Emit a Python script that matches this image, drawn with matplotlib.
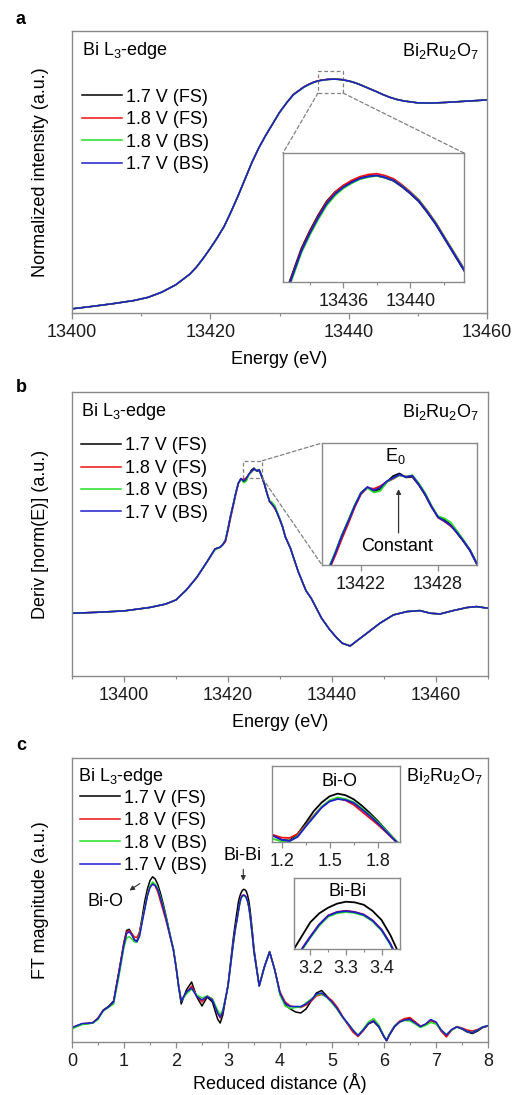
import matplotlib
matplotlib.use("Agg")
import matplotlib.pyplot as plt
from matplotlib.patches import Rectangle, ConnectionPatch
from matplotlib.ticker import MultipleLocator, FixedLocator, ScalarFormatter

plt.rcParams['font.family'] = ['Liberation Sans', 'DejaVu Sans']
plt.rcParams['mathtext.default'] = 'regular'

# ---------------- data ----------------
labels = ['1.7 V (FS)', '1.8 V (FS)', '1.8 V (BS)', '1.7 V (BS)']
colors = ['#000000', '#ee1111', '#22e022', '#1c1cd0']

# panel a: normalized XANES
E_a = [13400, 13403, 13406, 13409, 13411, 13413, 13415, 13417,
       13418, 13419, 13420, 13421, 13422, 13423, 13424, 13425, 13426, 13427, 13428, 13429, 13430, 13431,
       13432, 13432.5, 13433, 13433.5, 13434, 13434.5, 13435, 13435.5, 13436, 13436.5, 13437, 13437.5,
       13438, 13438.5, 13439, 13439.5, 13440, 13440.5, 13441, 13441.5, 13442, 13442.5, 13443, 13443.5, 13444,
       13445, 13446, 13447, 13448, 13450, 13452, 13454, 13456, 13458, 13460]
mu_fs17 = [0.000, 0.012, 0.025, 0.040, 0.055, 0.080, 0.115, 0.165,
           0.200, 0.243, 0.290, 0.340, 0.395, 0.465, 0.540, 0.620, 0.700, 0.770, 0.830, 0.885, 0.940, 0.985,
           1.0260, 1.0382, 1.0502, 1.0622, 1.0712, 1.0792, 1.0862, 1.0910, 1.0943, 1.0964, 1.0983, 1.0991,
           1.0994, 1.0983, 1.0967, 1.0937, 1.0902, 1.0862, 1.0807, 1.0747, 1.0677, 1.0607, 1.0537, 1.0467, 1.0398,
           1.025, 1.012, 1.002, 0.995, 0.986, 0.985, 0.988, 0.992, 0.996, 1.000]
mu_fs18 = [0.000, 0.012, 0.025, 0.040, 0.055, 0.080, 0.115, 0.165,
           0.200, 0.243, 0.290, 0.340, 0.395, 0.465, 0.540, 0.620, 0.700, 0.770, 0.830, 0.885, 0.940, 0.985,
           1.0255, 1.0375, 1.0495, 1.0615, 1.0706, 1.0786, 1.0857, 1.0908, 1.0944, 1.0970, 1.0989, 1.1000,
           1.1004, 1.0994, 1.0978, 1.0947, 1.0911, 1.0871, 1.0816, 1.0756, 1.0686, 1.0616, 1.0546, 1.0476, 1.0406,
           1.025, 1.012, 1.002, 0.995, 0.986, 0.985, 0.988, 0.992, 0.996, 1.000]
mu_bs18 = [0.000, 0.012, 0.025, 0.040, 0.055, 0.080, 0.115, 0.165,
           0.200, 0.243, 0.290, 0.340, 0.395, 0.465, 0.540, 0.620, 0.700, 0.770, 0.830, 0.885, 0.940, 0.985,
           1.0240, 1.0360, 1.0480, 1.0600, 1.0690, 1.0770, 1.0841, 1.0892, 1.0929, 1.0955, 1.0976, 1.0987,
           1.0993, 1.0984, 1.0970, 1.0941, 1.0907, 1.0868, 1.0813, 1.0753, 1.0683, 1.0613, 1.0543, 1.0473, 1.0403,
           1.025, 1.012, 1.002, 0.995, 0.986, 0.985, 0.988, 0.992, 0.996, 1.000]
mu_bs17 = [0.000, 0.012, 0.025, 0.040, 0.055, 0.080, 0.115, 0.165,
           0.200, 0.243, 0.290, 0.340, 0.395, 0.465, 0.540, 0.620, 0.700, 0.770, 0.830, 0.885, 0.940, 0.985,
           1.0250, 1.0370, 1.0490, 1.0610, 1.0700, 1.0780, 1.0850, 1.0900, 1.0935, 1.0960, 1.0980, 1.0990,
           1.0995, 1.0985, 1.0970, 1.0940, 1.0905, 1.0865, 1.0810, 1.0750, 1.0680, 1.0610, 1.0540, 1.0470, 1.0400,
           1.025, 1.012, 1.002, 0.995, 0.986, 0.985, 0.988, 0.992, 0.996, 1.000]

# panel b: first derivative
E_b = [13390, 13395, 13400, 13405, 13408, 13410, 13411, 13412, 13414, 13416, 13417.5, 13418.5, 13419,
       13419.5, 13420, 13420.5, 13421, 13421.5, 13422, 13422.5, 13423, 13423.5, 13424, 13424.5, 13425,
       13425.5, 13426, 13426.5, 13427, 13427.5, 13428, 13428.5, 13429, 13429.5, 13430, 13430.5, 13431,
       13432, 13433.5, 13435, 13436, 13437, 13438, 13439.6, 13441, 13442, 13443.5, 13445, 13446.7, 13449.2,
       13451.8, 13454.4, 13456.9, 13458.9, 13460.8, 13463.3, 13465.9, 13467.8, 13470]
d_fs17 = [0.0000, 0.0006, 0.0014, 0.0035, 0.0055, 0.0080, 0.0110, 0.0140, 0.0215, 0.0310, 0.0385, 0.0396, 0.0412,
          0.0437, 0.0508, 0.0586, 0.0652, 0.0722, 0.0782, 0.0806, 0.0790, 0.0798, 0.0830, 0.0858, 0.0870,
          0.0852, 0.0855, 0.0818, 0.0772, 0.0716, 0.0672, 0.0658, 0.0633, 0.0596, 0.0558, 0.0516, 0.0458,
          0.0390, 0.0250, 0.0135, 0.0090, 0.0030, -0.0030, -0.0100, -0.0150, -0.0180, -0.0196, -0.0160, -0.0120, -0.0060,
          -0.0010, 0.0010, 0.0016, 0.0000, -0.0004, 0.0016, 0.0034, 0.0040, 0.0030]
d_fs18 = [0.0000, 0.0006, 0.0014, 0.0035, 0.0055, 0.0080, 0.0110, 0.0140, 0.0215, 0.0310, 0.0385, 0.0396, 0.0410,
          0.0428, 0.0495, 0.0570, 0.0640, 0.0714, 0.0776, 0.0804, 0.0800, 0.0812, 0.0832, 0.0845, 0.0862,
          0.0856, 0.0858, 0.0821, 0.0776, 0.0720, 0.0668, 0.0650, 0.0628, 0.0600, 0.0560, 0.0520, 0.0462,
          0.0390, 0.0250, 0.0135, 0.0090, 0.0030, -0.0030, -0.0100, -0.0150, -0.0180, -0.0196, -0.0160, -0.0120, -0.0060,
          -0.0010, 0.0010, 0.0016, 0.0000, -0.0004, 0.0016, 0.0034, 0.0040, 0.0030]
d_bs18 = [0.0000, 0.0006, 0.0014, 0.0035, 0.0055, 0.0080, 0.0110, 0.0140, 0.0215, 0.0310, 0.0380, 0.0396, 0.0412,
          0.0440, 0.0510, 0.0586, 0.0654, 0.0724, 0.0782, 0.0804, 0.0783, 0.0790, 0.0830, 0.0848, 0.0862,
          0.0855, 0.0862, 0.0826, 0.0780, 0.0722, 0.0674, 0.0664, 0.0645, 0.0606, 0.0564, 0.0520, 0.0462,
          0.0390, 0.0250, 0.0135, 0.0090, 0.0030, -0.0030, -0.0100, -0.0150, -0.0180, -0.0196, -0.0160, -0.0120, -0.0060,
          -0.0010, 0.0010, 0.0016, 0.0000, -0.0004, 0.0016, 0.0034, 0.0040, 0.0030]
d_bs17 = [0.0000, 0.0006, 0.0014, 0.0035, 0.0055, 0.0080, 0.0110, 0.0140, 0.0215, 0.0310, 0.0385, 0.0396, 0.0412,
          0.0435, 0.0505, 0.0583, 0.0650, 0.0720, 0.0780, 0.0808, 0.0792, 0.0806, 0.0834, 0.0850, 0.0865,
          0.0854, 0.0860, 0.0820, 0.0775, 0.0718, 0.0670, 0.0652, 0.0632, 0.0598, 0.0560, 0.0518, 0.0460,
          0.0390, 0.0250, 0.0135, 0.0090, 0.0030, -0.0030, -0.0100, -0.0150, -0.0180, -0.0196, -0.0160, -0.0120, -0.0060,
          -0.0010, 0.0010, 0.0016, 0.0000, -0.0004, 0.0016, 0.0034, 0.0040, 0.0030]

# panel c: Fourier-transform magnitude
r_c = [0.0, 0.1, 0.2, 0.3, 0.4, 0.5, 0.6, 0.7, 0.8, 0.9,
       1.0, 1.05, 1.1, 1.15, 1.2, 1.25, 1.3, 1.35, 1.4, 1.45, 1.5, 1.55, 1.6, 1.65, 1.7, 1.75, 1.8, 1.85, 1.9, 1.95, 2.0, 2.05, 2.1,
       2.2, 2.3, 2.4, 2.5, 2.6, 2.7, 2.8, 2.85, 2.9, 3.0,
       3.1, 3.125, 3.15, 3.175, 3.2, 3.225, 3.25, 3.275, 3.3, 3.325, 3.35, 3.375, 3.4, 3.425, 3.45, 3.475, 3.5,
       3.6, 3.7, 3.8, 3.9, 4.0, 4.1, 4.2, 4.3, 4.4, 4.5, 4.6, 4.7, 4.8, 4.9, 5.0, 5.1, 5.2, 5.3, 5.4, 5.5, 5.6, 5.7, 5.8, 5.9, 6.0,
       6.05,
       6.1, 6.2, 6.3, 6.4, 6.5, 6.6, 6.7, 6.8, 6.9, 7.0, 7.1, 7.2, 7.3, 7.4, 7.5, 7.6, 7.7, 7.8, 7.9, 8.0]
ft_fs17 = [0.14, 0.16, 0.18, 0.185, 0.19, 0.235, 0.32, 0.355, 0.41, 0.70,
           1.00, 1.115, 1.127, 1.08, 1.02, 1.01, 1.10, 1.25, 1.41, 1.53, 1.615, 1.652, 1.63, 1.575, 1.49, 1.39, 1.28, 1.16, 1.04, 0.93, 0.76, 0.55, 0.38,
           0.52, 0.60, 0.45, 0.36, 0.45, 0.40, 0.23, 0.19, 0.27, 0.57,
           1.03, 1.13, 1.22, 1.31, 1.40, 1.455, 1.49, 1.515, 1.527, 1.523, 1.508, 1.47, 1.414, 1.32, 1.20, 1.07, 0.93,
           0.565, 0.755, 0.905, 0.72, 0.48, 0.37, 0.33, 0.30, 0.29, 0.33, 0.41, 0.49, 0.515, 0.46, 0.40, 0.33, 0.25, 0.18, 0.11, 0.06, 0.115, 0.18, 0.205, 0.15, 0.05,
           0.012,
           0.065, 0.15, 0.20, 0.23, 0.235, 0.20, 0.15, 0.175, 0.22, 0.19, 0.11, 0.06, 0.12, 0.15, 0.13, 0.10, 0.085, 0.11, 0.145, 0.16]
ft_fs18 = [0.14, 0.165, 0.183, 0.187, 0.195, 0.24, 0.315, 0.35, 0.40, 0.69,
           0.99, 1.10, 1.113, 1.085, 1.05, 1.045, 1.10, 1.22, 1.35, 1.47, 1.555, 1.585, 1.56, 1.50, 1.41, 1.32, 1.23, 1.13, 1.025, 0.92, 0.76, 0.57, 0.42,
           0.49, 0.56, 0.46, 0.40, 0.46, 0.43, 0.29, 0.24, 0.30, 0.56,
           0.985, 1.078, 1.162, 1.232, 1.312, 1.387, 1.442, 1.464, 1.471, 1.464, 1.448, 1.412, 1.355, 1.267, 1.152, 1.032, 0.902,
           0.56, 0.75, 0.90, 0.72, 0.50, 0.40, 0.36, 0.35, 0.345, 0.37, 0.41, 0.46, 0.475, 0.455, 0.415, 0.35, 0.26, 0.18, 0.10, 0.055, 0.115, 0.185, 0.215, 0.16, 0.055,
           0.018,
           0.07, 0.16, 0.21, 0.235, 0.245, 0.20, 0.16, 0.175, 0.215, 0.19, 0.11, 0.05, 0.12, 0.155, 0.14, 0.12, 0.11, 0.125, 0.15, 0.16]
ft_bs18 = [0.13, 0.155, 0.175, 0.18, 0.19, 0.225, 0.31, 0.345, 0.38, 0.65,
           0.95, 1.04, 1.053, 1.03, 1.00, 1.00, 1.07, 1.21, 1.34, 1.47, 1.56, 1.60, 1.578, 1.535, 1.455, 1.365, 1.265, 1.155, 1.04, 0.93, 0.76, 0.56, 0.41,
           0.48, 0.53, 0.47, 0.44, 0.46, 0.43, 0.32, 0.27, 0.32, 0.55,
           0.975, 1.068, 1.153, 1.224, 1.304, 1.379, 1.434, 1.456, 1.463, 1.457, 1.441, 1.405, 1.349, 1.26, 1.147, 1.028, 0.898,
           0.56, 0.75, 0.90, 0.72, 0.47, 0.36, 0.335, 0.345, 0.35, 0.39, 0.43, 0.47, 0.48, 0.445, 0.39, 0.325, 0.25, 0.19, 0.125, 0.065, 0.13, 0.20, 0.235, 0.17, 0.06,
           0.02,
           0.075, 0.16, 0.20, 0.215, 0.21, 0.18, 0.145, 0.165, 0.195, 0.18, 0.12, 0.075, 0.12, 0.15, 0.135, 0.105, 0.095, 0.12, 0.15, 0.165]
ft_bs17 = [0.145, 0.165, 0.185, 0.187, 0.193, 0.235, 0.315, 0.35, 0.40, 0.68,
           0.975, 1.085, 1.103, 1.07, 1.02, 1.003, 1.06, 1.20, 1.33, 1.46, 1.545, 1.578, 1.565, 1.525, 1.44, 1.35, 1.25, 1.14, 1.03, 0.92, 0.75, 0.56, 0.41,
           0.50, 0.54, 0.455, 0.42, 0.455, 0.42, 0.29, 0.25, 0.30, 0.56,
           0.98, 1.075, 1.16, 1.23, 1.31, 1.385, 1.44, 1.462, 1.469, 1.462, 1.446, 1.41, 1.353, 1.265, 1.15, 1.03, 0.90,
           0.56, 0.75, 0.90, 0.72, 0.49, 0.385, 0.355, 0.355, 0.355, 0.38, 0.42, 0.48, 0.49, 0.45, 0.40, 0.335, 0.255, 0.19, 0.12, 0.065, 0.12, 0.185, 0.21, 0.155, 0.055,
           0.015,
           0.07, 0.155, 0.20, 0.22, 0.225, 0.19, 0.155, 0.18, 0.225, 0.20, 0.12, 0.07, 0.125, 0.15, 0.135, 0.105, 0.095, 0.12, 0.15, 0.163]

mu_a = [mu_fs17, mu_fs18, mu_bs18, mu_bs17]
d_b = [d_fs17, d_fs18, d_bs18, d_bs17]
ft_c = [ft_fs17, ft_fs18, ft_bs18, ft_bs17]
for s in mu_a:
    assert len(s) == len(E_a)
for s in d_b:
    assert len(s) == len(E_b)
for s in ft_c:
    assert len(s) == len(r_c)

# ---------------- figure ----------------
W, H = 513, 1095
fig = plt.figure(figsize=(W / 100, H / 100), dpi=100)
SPINE = '#8a8a8a'
FS = 13


def px_axes(x0, y0, x1, y1):
    return fig.add_axes([x0 / W, 1 - y1 / H, (x1 - x0) / W, (y1 - y0) / H])


def style(ax):
    for s in ax.spines.values():
        s.set_color(SPINE)
        s.set_linewidth(1.0)
    ax.tick_params(axis='x', which='both', direction='out', color=SPINE, labelsize=FS,
                   top=False, labelcolor='#1a1a1a')
    ax.tick_params(axis='x', which='major', length=4, width=0.9, pad=4)
    ax.tick_params(axis='x', which='minor', length=2.5, width=0.8)
    fmt = ScalarFormatter(useOffset=False)
    ax.xaxis.set_major_formatter(fmt)
    ax.set_yticks([])


def draw(ax, x, ys, lw=1.1):
    for y, c, lab in zip(ys, colors, labels):
        ax.plot(x, y, color=c, lw=lw, label=lab)


def header(ax, xl, xr, y):
    ax.text(xl, y, 'Bi L$_3$-edge', transform=ax.transAxes, fontsize=FS, va='center', ha='left')
    ax.text(xr, y, 'Bi$_2$Ru$_2$O$_7$', transform=ax.transAxes, fontsize=FS, va='center', ha='right')


def legend(ax, x, y):
    ax.legend(loc='upper left', bbox_to_anchor=(x, y), frameon=False, fontsize=FS,
              handlelength=2.2, handletextpad=0.25, labelspacing=0.3,
              borderpad=0, borderaxespad=0)


dash = dict(color='#808080', lw=0.9, ls=(0, (3, 2)))

# ---- panel a ----
ax = px_axes(72, 31, 487, 313)
style(ax)
draw(ax, E_a, mu_a)
ax.set_xlim(13400, 13460)
ax.set_ylim(-0.02, 1.33)
ax.xaxis.set_major_locator(MultipleLocator(20))
ax.xaxis.set_minor_locator(MultipleLocator(10))
ax.set_xlabel('Energy (eV)', fontsize=FS, labelpad=7)
ax.set_ylabel('Normalized intensity (a.u.)', fontsize=FS)
ax.yaxis.set_label_coords(-0.055, 0.5)
header(ax, 0.024, 0.981, 0.93)
legend(ax, 0.024, 0.795)
ax.add_patch(Rectangle((13435.56, 1.033), 3.62, 0.106, fill=False, ec='#808080', lw=0.9, ls=(0, (3, 2))))
fig.text(16 / W, 1 - 20 / H, 'a', fontsize=13, fontweight='bold', ha='left', va='center')

ins = px_axes(283, 153, 464, 282)
style(ins)
draw(ins, E_a, mu_a, lw=1.3)
ins.set_xlim(13432.4, 13443.2)
ins.set_ylim(1.045, 1.111)
ins.xaxis.set_major_locator(FixedLocator([13436, 13440]))
ins.xaxis.set_minor_locator(FixedLocator([13434, 13438, 13442]))
for xa, xb in [((13435.56, 1.033), (0, 1)), ((13439.18, 1.033), (1, 1))]:
    fig.add_artist(ConnectionPatch(xyA=xa, coordsA=ax.transData, xyB=xb, coordsB=ins.transAxes, **dash))

# ---- panel b ----
ax = px_axes(72, 392, 488, 676)
style(ax)
draw(ax, E_b, d_b)
ax.set_xlim(13390, 13470)
ax.set_ylim(-0.0376, 0.1326)
ax.xaxis.set_major_locator(MultipleLocator(20))
ax.xaxis.set_minor_locator(MultipleLocator(10))
ax.set_xlabel('Energy (eV)', fontsize=FS, labelpad=7)
ax.set_ylabel('Deriv [norm(E)] (a.u.)', fontsize=FS)
ax.yaxis.set_label_coords(-0.055, 0.5)
header(ax, 0.022, 0.978, 0.93)
legend(ax, 0.022, 0.84)
ax.add_patch(Rectangle((13422.8, 0.0810), 3.8, 0.0104, fill=False, ec='#808080', lw=0.9, ls=(0, (3, 2))))
fig.text(16 / W, 1 - 388 / H, 'b', fontsize=13, fontweight='bold', ha='left', va='center')

ins = px_axes(322, 443, 477, 565)
style(ins)
draw(ins, E_b, d_b, lw=1.3)
ins.set_xlim(13418.95, 13431.05)
ins.set_ylim(0.045, 0.101)
ins.xaxis.set_major_locator(FixedLocator([13422, 13428]))
ins.text(0.473, 0.89, 'E$_0$', transform=ins.transAxes, fontsize=FS, ha='center', va='center')
ins.text(0.485, 0.15, 'Constant', transform=ins.transAxes, fontsize=FS, ha='center', va='center')
ins.annotate('', xy=(0.494, 0.645), xytext=(0.494, 0.24), xycoords='axes fraction',
             arrowprops=dict(arrowstyle='-|>', color='#333333', lw=0.9, mutation_scale=7))
for xa, xb in [((13426.6, 0.0914), (0, 1)), ((13426.6, 0.0810), (0, 0))]:
    fig.add_artist(ConnectionPatch(xyA=xa, coordsA=ax.transData, xyB=xb, coordsB=ins.transAxes, **dash))

# ---- panel c ----
ax = px_axes(72, 758, 488, 1042)
style(ax)
draw(ax, r_c, ft_c)
ax.set_xlim(0, 8)
ax.set_ylim(0, 2.84)
ax.xaxis.set_major_locator(MultipleLocator(1))
ax.xaxis.set_minor_locator(MultipleLocator(0.5))
ax.set_xlabel('Reduced distance (Å)', fontsize=FS, labelpad=2)
ax.set_ylabel('FT magnitude (a.u.)', fontsize=FS)
ax.yaxis.set_label_coords(-0.055, 0.5)
header(ax, 0.015, 0.989, 0.935)
legend(ax, 0.019, 0.888)
ax.text(0.635, 1.40, 'Bi-O', fontsize=FS, ha='center', va='center')
ax.annotate('', xy=(1.06, 1.50), xytext=(1.35, 1.60),
            arrowprops=dict(arrowstyle='-|>', color='#333333', lw=0.8, mutation_scale=7))
ax.text(3.28, 1.87, 'Bi-Bi', fontsize=FS, ha='center', va='center')
ax.annotate('', xy=(3.294, 1.585), xytext=(3.294, 1.755),
            arrowprops=dict(arrowstyle='-|>', color='#333333', lw=0.8, mutation_scale=7))
fig.text(16 / W, 1 - 746 / H, 'c', fontsize=13, fontweight='bold', ha='left', va='center')

ins = px_axes(272, 766, 400, 842)
style(ins)
draw(ins, r_c, ft_c, lw=1.3)
ins.set_xlim(1.14, 1.94)
ins.set_ylim(0.99, 2.03)
ins.xaxis.set_major_locator(FixedLocator([1.2, 1.5, 1.8]))
ins.xaxis.set_minor_locator(FixedLocator([1.35, 1.65]))
ins.text(0.53, 0.80, 'Bi-O', transform=ins.transAxes, fontsize=FS, ha='center', va='center')

ins = px_axes(294, 878, 400, 949)
style(ins)
draw(ins, r_c, ft_c, lw=1.3)
ins.set_xlim(3.154, 3.452)
ins.set_ylim(1.234, 1.674)
ins.xaxis.set_major_locator(FixedLocator([3.2, 3.3, 3.4]))
ins.xaxis.set_minor_locator(FixedLocator([3.25, 3.35]))
ins.text(0.51, 0.81, 'Bi-Bi', transform=ins.transAxes, fontsize=FS, ha='center', va='center')

fig.savefig('out.png', dpi=100)
